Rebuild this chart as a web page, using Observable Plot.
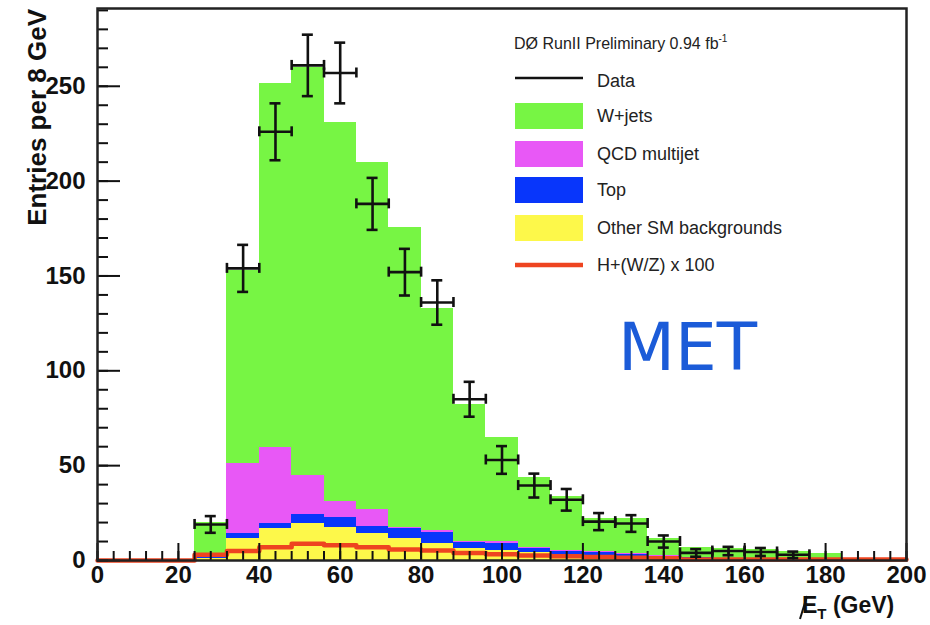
<!DOCTYPE html>
<html>
<head>
<meta charset="utf-8">
<script src="https://cdn.jsdelivr.net/npm/d3@7"></script>
<script src="https://cdn.jsdelivr.net/npm/@observablehq/plot@0.6"></script>
<style>
  html, body { margin: 0; padding: 0; background: #fff; }
  #chart { width: 930px; height: 625px; }
</style>
</head>
<body>
<div id="chart"></div>
<script>
// ---- Data ----
const binLow = [0,8,16,24,32,40,48,56,64,72,80,88,96,104,112,120,128,136,144,152,160,168,176,184,192];
const binWidth = 8;
const otherSM = [0,0,0,1,11.5,17,19.7,17.4,14,11.6,8.8,6.2,5.5,4,3,2.5,2,1.2,0.8,0.5,0.4,0.2,0.1,0,0];
const topQuark = [0,0,0,0.5,2.9,2.7,4.6,5.3,4,5.4,6.2,3.5,3.5,2.3,2,1.9,1.4,1,0.6,0.5,0.3,0.2,0.2,0,0];
const qcdMultijet = [0,0,0,1.5,36.6,39.9,20.7,8.3,9,0.6,0.8,0.3,1,0.5,0.5,0.2,0.1,0.2,0.1,0.1,0.1,0.1,0,0,0];
const wJets = [0,0,0,17,102,192,215,200,183,158,117,72,55,37,28.5,17.5,18.5,9.2,5.5,5.4,5.2,4.1,3.4,0,0];
const higgsX100 = [0,0,0,3,5,7,8.8,8,7,5.8,5.3,4,3.3,2.6,2.2,1.8,1.5,1.2,0.5,0.5,0.5,0.5,0.5,0.5,0.5];
const dataCounts = [0,0,0,19,154,226,261,257,188,152,136,85,53,39.5,32,20.5,19.5,10,4,5,4.5,3,0,0,0];
const dataErrors = [0,0,0,4.4,12.4,15,16.2,16,13.7,12.3,11.7,9.2,7.3,6.3,5.7,4.5,4.4,3.2,2,2.2,2.1,1.7,0,0,0];

const seriesNames = ["Other SM backgrounds", "Top", "QCD multijet", "W+jets"];
const seriesColors = ["#fdf84a", "#0836fb", "#e858f6", "#77f544"];
const xMajorTicks = [0,20,40,60,80,100,120,140,160,180,200];
const xMinorTicks = [0,4,8,12,16,20,24,28,32,36,40,44,48,52,56,60,64,68,72,76,80,84,88,92,96,100,104,108,112,116,120,124,128,132,136,140,144,148,152,156,160,164,168,172,176,180,184,188,192,196,200];
const yMajorTicks = [0,50,100,150,200,250];
const yMinorTicks = [0,10,20,30,40,50,60,70,80,90,100,110,120,130,140,150,160,170,180,190,200,210,220,230,240,250,260,270,280,290];

// ---- Tables built from the arrays ----
const seriesArrays = [otherSM, topQuark, qcdMultijet, wJets];
const stackRows = [];
binLow.forEach((lo, i) => {
  let cum = 0;
  seriesArrays.forEach((arr, s) => {
    const v = arr[i];
    if (v > 0) stackRows.push({lo, hi: lo + binWidth, y1: cum, y2: cum + v, series: seriesNames[s]});
    cum += v;
  });
});
const higgsPts = binLow.map((lo, i) => ({x: lo, y: higgsX100[i]}));
higgsPts.push({x: binLow[binLow.length - 1] + binWidth, y: higgsX100[higgsX100.length - 1]});
const dataRows = binLow.map((lo, i) => ({lo, hi: lo + binWidth, mid: lo + binWidth / 2, n: dataCounts[i], e: dataErrors[i]}))
  .filter(d => d.n > 0);

const black = "#111";
const lw = 2.6;

const chart = Plot.plot({
  width: 930,
  height: 625,
  marginLeft: 97,
  marginRight: 24,
  marginTop: 8,
  marginBottom: 65,
  style: {fontFamily: "'Liberation Sans', Arial, Helvetica, sans-serif", background: "#fff", color: black},
  x: {domain: [0, 200], label: null},
  y: {domain: [0, 291], label: null},
  color: {domain: seriesNames, range: seriesColors},
  marks: [
    Plot.rect(stackRows, {x1: "lo", x2: "hi", y1: "y1", y2: "y2", fill: "series", shapeRendering: "crispEdges"}),
    Plot.line(higgsPts, {x: "x", y: "y", curve: "step-after", stroke: "#ee4420", strokeWidth: 4.5}),
    // data error bars
    Plot.ruleY(dataRows, {y: "n", x1: "lo", x2: "hi", stroke: black, strokeWidth: lw}),
    Plot.ruleX(dataRows, {x: "mid", y1: d => d.n - d.e, y2: d => d.n + d.e, stroke: black, strokeWidth: lw}),
    Plot.ruleY(dataRows, {y: d => d.n + d.e, x1: "mid", x2: "mid", insetLeft: -5.5, insetRight: -5.5, stroke: black, strokeWidth: lw}),
    Plot.ruleY(dataRows, {y: d => d.n - d.e, x1: "mid", x2: "mid", insetLeft: -5.5, insetRight: -5.5, stroke: black, strokeWidth: lw}),
    Plot.ruleX(dataRows, {x: "lo", y1: "n", y2: "n", insetTop: -5, insetBottom: -5, stroke: black, strokeWidth: lw}),
    Plot.ruleX(dataRows, {x: "hi", y1: "n", y2: "n", insetTop: -5, insetBottom: -5, stroke: black, strokeWidth: lw}),
    // axes
    Plot.axisX({ticks: xMinorTicks, tickSize: -9, tickFormat: () => "", strokeWidth: 2, stroke: black}),
    Plot.axisX({ticks: xMajorTicks, tickSize: -17, tickFormat: () => "", strokeWidth: 2, stroke: black}),
    Plot.axisX({ticks: xMajorTicks, tickSize: 0, tickPadding: 5, fontSize: 24, fontWeight: "bold", fill: black}),
    Plot.axisY({ticks: yMinorTicks, tickSize: -11, tickFormat: () => "", strokeWidth: 2, stroke: black}),
    Plot.axisY({ticks: yMajorTicks, tickSize: -23, tickFormat: () => "", strokeWidth: 2, stroke: black}),
    Plot.axisY({ticks: yMajorTicks, tickSize: 0, tickPadding: 12, fontSize: 24, fontWeight: "bold", fill: black}),
    Plot.frame({stroke: "#222", strokeWidth: 2.5})
  ]
});

document.getElementById("chart").appendChild(chart);
const svg = d3.select(chart);
const font = "'Liberation Sans', Arial, Helvetica, sans-serif";

// Y axis title
svg.append("text")
  .attr("transform", "translate(46,9) rotate(-90)")
  .attr("text-anchor", "end")
  .attr("font-family", font).attr("font-size", 26).attr("font-weight", "bold")
  .attr("fill", black)
  .text("Entries per 8 GeV");

// X axis title: missing E_T (GeV)
const xt = svg.append("text")
  .attr("x", 802).attr("y", 613)
  .attr("text-anchor", "start")
  .attr("font-family", font).attr("font-size", 23).attr("font-weight", "bold")
  .attr("fill", black);
xt.append("tspan").text("E");
xt.append("tspan").attr("font-size", 15).attr("dy", 6).text("T");
xt.append("tspan").attr("dy", -6).text(" (GeV)");
svg.append("line").attr("x1", 800).attr("y1", 619).attr("x2", 807).attr("y2", 596)
  .attr("stroke", black).attr("stroke-width", 2);

// Legend
const lg = svg.append("g").attr("font-family", font).attr("fill", black).attr("text-anchor", "start");
const hdr = lg.append("text").attr("x", 514).attr("y", 49).attr("font-size", 16).attr("fill", "#222").attr("text-anchor", "start");
hdr.append("tspan").text("DØ RunII Preliminary 0.94 fb");
hdr.append("tspan").attr("font-size", 10).attr("dy", -7).text("-1");

const legendItems = [
  {label: "Data", kind: "line", color: black, y: 78, base: 87, w: 2.5},
  {label: "W+jets", kind: "box", color: seriesColors[3], y: 116, base: 122},
  {label: "QCD multijet", kind: "box", color: seriesColors[2], y: 154, base: 160},
  {label: "Top", kind: "box", color: seriesColors[1], y: 190, base: 196},
  {label: "Other SM backgrounds", kind: "box", color: seriesColors[0], y: 228, base: 234},
  {label: "H+(W/Z) x 100", kind: "line", color: "#ee4420", y: 265, base: 271, w: 4.5}
];
legendItems.forEach(it => {
  if (it.kind === "line") {
    lg.append("line").attr("x1", 515).attr("x2", 583).attr("y1", it.y).attr("y2", it.y)
      .attr("stroke", it.color).attr("stroke-width", it.w);
  } else {
    lg.append("rect").attr("x", 515).attr("y", it.y - 13).attr("width", 68).attr("height", 26)
      .attr("fill", it.color);
  }
  lg.append("text").attr("x", 597).attr("y", it.base).attr("font-size", 18).attr("fill", "#222")
    .attr("text-anchor", "start").text(it.label);
});

// MET annotation
svg.append("text")
  .attr("x", 618).attr("y", 370)
  .attr("text-anchor", "start")
  .attr("font-family", "'DejaVu Sans', sans-serif").attr("font-size", 66)
  .attr("fill", "#1b5bd8")
  .text("MET");
</script>
</body>
</html>
